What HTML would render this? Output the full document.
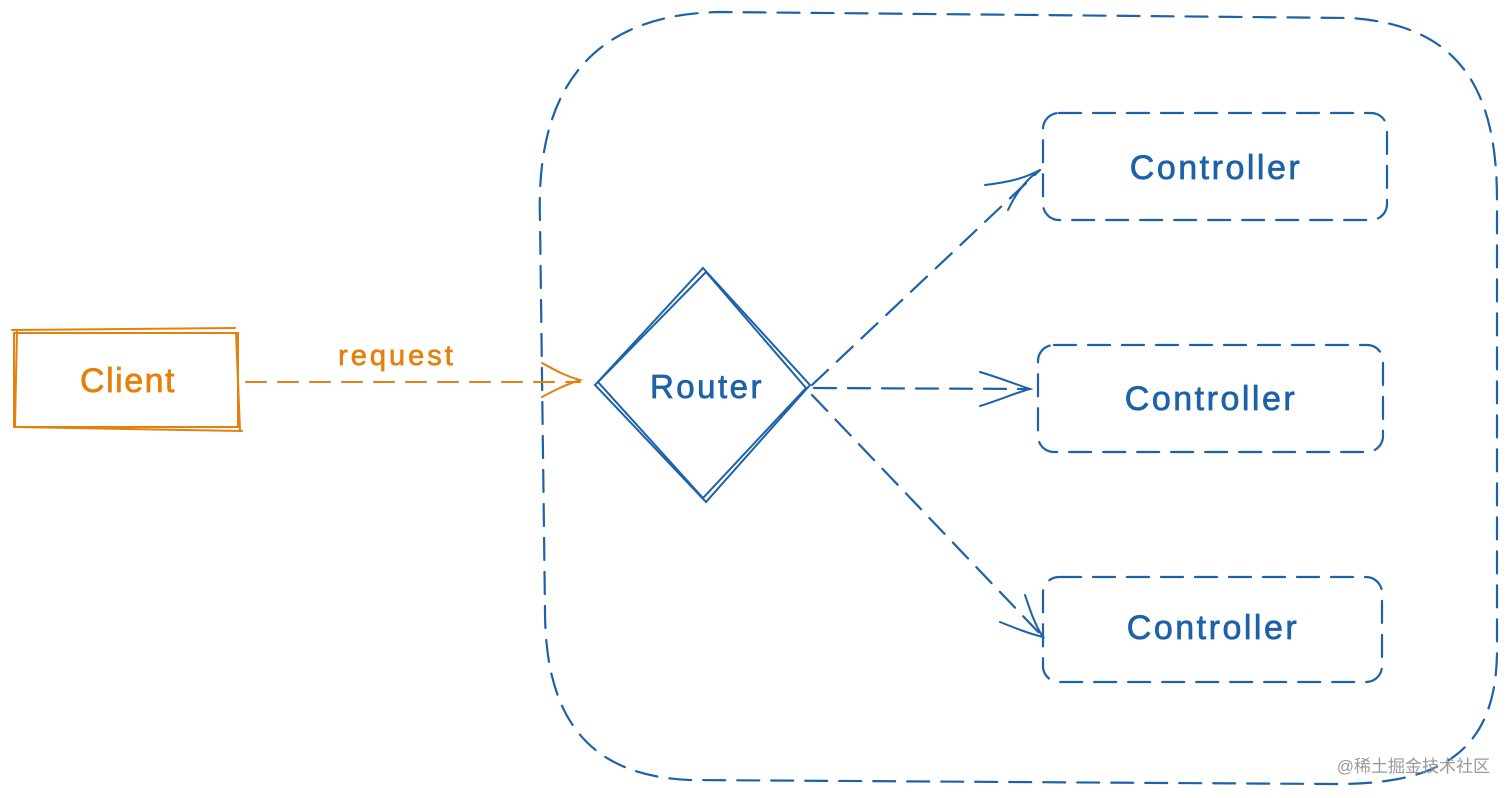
<!DOCTYPE html>
<html><head><meta charset="utf-8"><style>
html,body{margin:0;padding:0;background:#fff;width:1512px;height:798px;overflow:hidden}
svg{display:block}
text{font-family:"Liberation Sans",sans-serif}
</style></head><body>
<svg width="1512" height="798" viewBox="0 0 1512 798" xmlns="http://www.w3.org/2000/svg">
<g fill="none" stroke="#1d62a8" stroke-width="2.2" stroke-dasharray="22 12" stroke-linecap="round">
<path d="M540 220 C535 80 600 14 720 12 L1350 18 C1460 25 1497 90 1497 200 L1497 650 C1497 760 1430 785 1330 784 L690 780 C590 776 545 720 545 610 Z"/>
<rect x="1043" y="113" width="344" height="107" rx="16"/>
<rect x="1038" y="345" width="345" height="107" rx="16"/>
<rect x="1043" y="577" width="339" height="105" rx="16"/>
<path d="M812 385 L1040 170"/>
<path d="M814 388 L1030 389"/>
<path d="M812 395 L1043 637"/>
</g>
<g fill="none" stroke="#1d62a8" stroke-width="2" stroke-linecap="round">
<path d="M703 268 L810 385 L706 502 L595 385 Z"/>
<path d="M706 272 L806 388 L703 498 L598 382 Z"/>
<path d="M985 185 C1010 182 1025 178 1040 170 C1025 180 1015 195 1008 210"/>
<path d="M980 372 C1000 378 1015 384 1030 389 C1015 393 1000 400 980 406"/>
<path d="M1000 622 C1015 628 1030 634 1043 637 C1035 625 1030 610 1025 595"/>
</g>
<g fill="none" stroke="#e3800e" stroke-width="2" stroke-linecap="round">
<rect x="14" y="333" width="224" height="94"/>
<path d="M12 330 L235 328 M16 427 L242 431 M17 330 L15 426 M236 333 L240 430"/>
<path d="M246 382 L580 382" stroke-dasharray="20 12"/>
<path d="M542 363 C555 370 565 376 580 380 C565 385 555 390 542 397"/>
</g>
<text x="128" y="392" font-size="34" fill="#e3800e" stroke="#e3800e" stroke-width="0.7" letter-spacing="1.5" text-anchor="middle">Client</text>
<text x="397" y="365" font-size="29" fill="#e3800e" stroke="#e3800e" stroke-width="0.7" letter-spacing="3" text-anchor="middle">request</text>
<g fill="#1d62a8" stroke="#1d62a8" stroke-width="0.7" font-size="34" text-anchor="middle" letter-spacing="2.5">
<text x="1216" y="179">Controller</text>
<text x="1211" y="410">Controller</text>
<text x="1213" y="639">Controller</text>
</g>
<text x="707" y="398" font-size="33" fill="#1d62a8" stroke="#1d62a8" stroke-width="0.7" letter-spacing="2.5" text-anchor="middle">Router</text>
<text x="1490" y="772" font-size="17" fill="#9a9a9a" text-anchor="end" style='font-family:"Liberation Sans","Noto Sans CJK SC",sans-serif'>@稀土掘金技术社区</text>
</svg>
</body></html>
